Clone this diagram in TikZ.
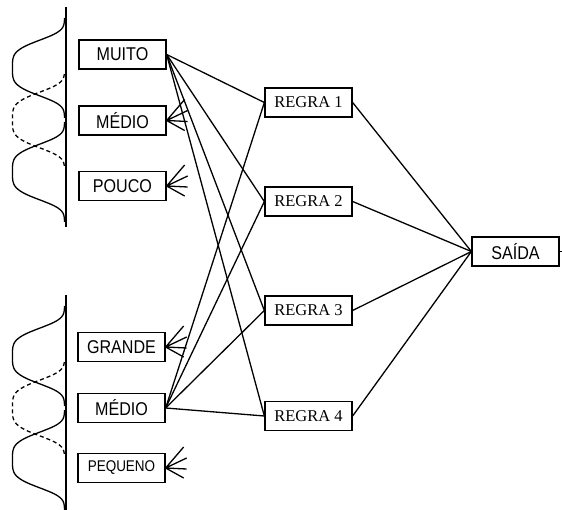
\documentclass[tikz,border=0pt]{standalone}
\usepackage{fontspec}
\setmainfont{Liberation Serif}
\newfontfamily\lblfont{Liberation Sans}[FakeStretch=0.87]
\begin{document}
\begin{tikzpicture}[x=1pt, y=-1pt,
    box/.style={draw, line width=1.3pt, minimum width=87pt, minimum height=29pt, inner sep=0pt},
    var/.style={box, font=\lblfont\fontsize{18.5}{20}\selectfont},
    small/.style={box, font=\lblfont\fontsize{15.5}{18}\selectfont},
    rule/.style={box, font=\fontsize{16.5}{18}\selectfont},
    link/.style={line width=1.3pt},
    bell/.style={line width=1.3pt}]
      \useasboundingbox (0,0) rectangle (562,510);
      \draw
        (122.5,54.5) node[var] (muito){MUITO}
        (122.5,120.5) node[var] (medioa){MÉDIO}
        (122.5,186) node[var] (pouco){POUCO}
        (121.5,347) node[var] (grande){GRANDE}
        (121.5,408) node[var] (mediob){MÉDIO}
        (121.5,468) node[small] (pequeno){PEQUENO}
        (308.5,102.5) node[rule] (r1){REGRA 1}
        (308.5,201.5) node[rule] (r2){REGRA 2}
        (308.5,310.5) node[rule] (r3){REGRA 3}
        (308.5,416) node[rule] (r4){REGRA 4}
        (515.5,251.5) node[var] (saida){SAÍDA};
      \coordinate (saidaout) at (566,251.5);
      % membership curves
      \draw[bell] (66,7) -- (66,227);
      \draw[bell] (66,295) -- (66,510);
      \foreach \p in {68,172,356,460}
        \draw[bell] plot[domain=-50:50, samples=81, variable=\t, smooth]
          ({64.5-52*exp(0-(\t*\t/900)*(\t*\t/900))}, {\p+\t});
      \foreach \p in {120,408}
        \draw[bell, dash pattern=on 4pt off 3pt] plot[domain=-46:46, samples=81, variable=\t, smooth]
          ({64.5-52*exp(0-(\t*\t/900)*(\t*\t/900))}, {\p+\t});
      \foreach \n in {medioa,pouco,grande,pequeno}
        \draw[link] (\n.east) -- +(18,-21) (\n.east) -- +(21,-10)
          (\n.east) -- +(21,1) (\n.east) -- +(18,10);
      \begin{scope}[link]
        \draw (muito.east) to (r1.west);
        \draw (muito.east) to (r2.west);
        \draw (muito.east) to (r3.west);
        \draw (muito.east) to (r4.west);
        \draw (mediob.east) to (r1.west);
        \draw (mediob.east) to (r2.west);
        \draw (mediob.east) to (r3.west);
        \draw (mediob.east) to (r4.west);
        \draw (r1.east) to (saida.west);
        \draw (r2.east) to (saida.west);
        \draw (r3.east) to (saida.west);
        \draw (r4.east) to (saida.west);
        \draw (saida.east) to (saidaout);
      \end{scope}
    \end{tikzpicture}
\end{document}
